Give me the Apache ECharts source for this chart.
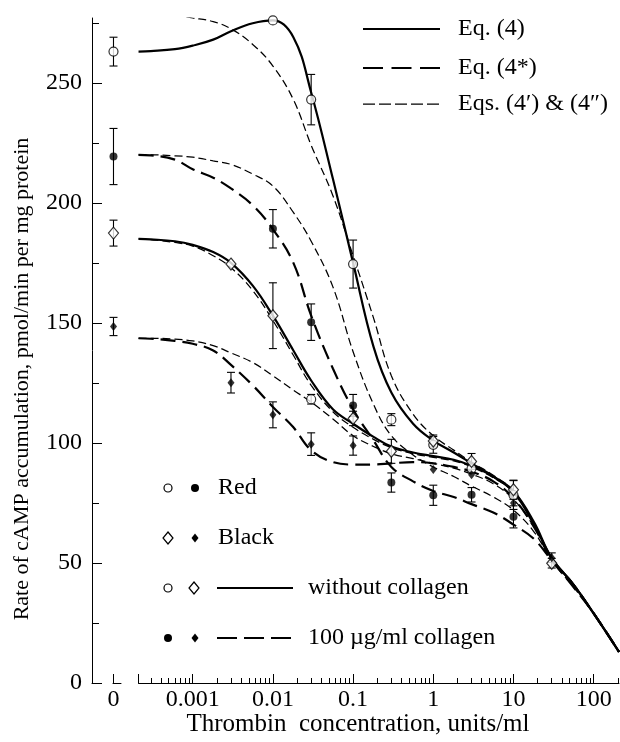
<!DOCTYPE html>
<html>
<head>
<meta charset="utf-8">
<script src="https://cdn.jsdelivr.net/npm/echarts@6/dist/echarts.min.js"></script>
<style>
  html, body { margin: 0; padding: 0; background: #fff; }
  #chart { width: 620px; height: 742px; }
</style>
</head>
<body>
<div id="chart"></div>
<script>
// measured points, thrombin in units/ml (0 = no thrombin), rate in pmol/min per mg
const redOpenX = [0, 0.01, 0.03, 0.1, 0.3, 1, 3, 10];
const redOpenY = [263, 276, 243, 174.5, 109.7, 99.2, 89.3, 78.3];
const redOpenErr = [6, 0, 10.5, 10, 2.5, 3.5, 0, 6];

const redFillX = [0, 0.01, 0.03, 0.1, 0.3, 1, 3, 10];
const redFillY = [219.3, 189.2, 150.3, 115.6, 83.5, 78.2, 78.4, 69.2];
const redFillErr = [11.7, 8, 7.6, 4.6, 4, 4.2, 3, 4.6];

const blackOpenX = [0, 0.003, 0.01, 0.03, 0.1, 0.3, 1, 3, 10, 30];
const blackOpenY = [187.4, 174.5, 153, 118.2, 110.2, 96.5, 100.8, 92.3, 80.5, 49.9];
const blackOpenErr = [5.4, 0, 13.7, 2, 3, 5, 2.5, 3.3, 4, 2];

const blackFillX = [0, 0.003, 0.01, 0.03, 0.1, 1, 3, 10, 30];
const blackFillY = [148.5, 125.1, 111.7, 99.5, 98.9, 88.9, 86.7, 75, 52.2];
const blackFillErr = [3.8, 4.3, 5.4, 4.7, 4, 0, 0, 0, 2];

// fitted curves, read at these concentrations
const curveX = [0.000211, 0.0003, 0.0006, 0.001, 0.0018, 0.003, 0.0056, 0.01, 0.018, 0.03, 0.056,
  0.1, 0.18, 0.3, 0.56, 1, 1.8, 3, 5.6, 10, 18, 30, 56, 100, 207];
const redEq4 = [263, 263.2, 264, 265.5, 268, 271.5, 274.8, 276, 269, 246, 210,
  175, 140, 121, 108, 101, 96, 91.5, 86, 79.5, 66, 52, 41, 29, 13];
const redEq4p = [278.3, 278.3, 278, 277, 275.5, 272.5, 266, 257, 243, 224, 203,
  178, 152, 128, 112, 103, 97, 92, 86.5, 80, 66.5, 52, 41, 29, 13];
const redEq4s = [220, 219.8, 218, 214, 210.5, 206, 199, 189, 175, 153, 131,
  114, 101, 90, 84, 80, 77.5, 74.5, 71, 66, 60, 51, 40, 29, 13];
const redEq4sp = [220, 220, 219.6, 219, 217.5, 216, 212, 207, 196, 184, 165,
  138, 116, 103, 95, 90, 86, 82, 77.5, 72, 63, 51, 40, 29, 13];
const blackEq4 = [185, 184.8, 184, 182.5, 179.5, 175, 165.5, 153, 138.5, 126, 114,
  108, 102.5, 98.5, 96, 94.5, 93, 90.5, 86, 80, 67, 52, 41, 29, 13];
const blackEq4p = [185, 184.7, 183.5, 182, 178, 173, 163.5, 151, 136.5, 124, 113,
  106.5, 101.5, 98, 95.5, 94, 92.5, 90, 85.5, 79.5, 66.5, 52, 41, 29, 13];
const blackEq4s = [143.6, 143.4, 142.5, 141.3, 138.5, 132.5, 124, 115, 106.5, 97, 92,
  91, 91, 91.5, 92, 91.5, 90, 88, 84, 77, 65, 51.5, 41, 29, 13];
const blackEq4sp = [143.6, 143.6, 143.2, 142.5, 140.5, 137.5, 133.5, 128, 122, 117, 110,
  103, 98.5, 95.5, 93.5, 91.5, 89.5, 87, 83, 76.5, 65, 51.5, 41, 29, 13];

const decadeLabels = ['0.001', '0.01', '0.1', '1', '10', '100'];
const yLabels = [0, 50, 100, 150, 200, 250];
const yMinor = [25, 75, 125, 175, 225, 275];

const FONT = 'Liberation Serif';
// x axis runs in log10 units; the "0" column sits left of an axis break
const xMin = Math.log10(curveX[0]);
const xMax = Math.log10(curveX[curveX.length - 1]);
const xLeft = -4.256;
const zeroPos = -3.988;
const toX = (c) => (c === 0 ? zeroPos : Math.log10(c));

const majorX = [zeroPos, xMin, -3, -2, -1, 0, 1, 2];
const minorX = [];
for (let d = -4; d <= 2; d++) {
  for (let k = 2; k <= 9; k++) {
    const v = Math.log10(k) + d;
    if (v > xMin && v < xMax) minorX.push(v);
  }
}

function bars(xs, ys, es) {
  const out = [];
  xs.forEach((x, i) => {
    if (es[i] > 0) out.push([toX(x), ys[i] - es[i], ys[i] + es[i]]);
  });
  return out;
}
const curve = (vals) => curveX.map((c, i) => [toX(c), vals[i]]);

const openStyle = { color: '#fff', borderColor: '#000', borderWidth: 1.2 };
const fillStyle = { color: '#000', borderColor: '#000', borderWidth: 0 };

function markers(name, xs, ys, symbol, size, style, overrides) {
  const data = xs.map((x, i) => {
    const o = (overrides || []).find((q) => q.x === x);
    const d = [toX(x), ys[i]];
    return o ? { value: d, symbol: o.symbol, symbolSize: o.size } : d;
  });
  return {
    name, type: 'scatter', symbol, symbolSize: size, itemStyle: style,
    z: 10, silent: true, data
  };
}

function errorSeries(xs, ys, es) {
  return {
    type: 'custom', z: 8, silent: true,
    renderItem(params, api) {
      const x = api.value(0);
      const top = api.coord([x, api.value(2)]);
      const bot = api.coord([x, api.value(1)]);
      const w = 4;
      const st = { stroke: '#000', lineWidth: 1.1 };
      return {
        type: 'group', children: [
          { type: 'line', shape: { x1: top[0], y1: top[1], x2: bot[0], y2: bot[1] }, style: st },
          { type: 'line', shape: { x1: top[0] - w, y1: top[1], x2: top[0] + w, y2: top[1] }, style: st },
          { type: 'line', shape: { x1: bot[0] - w, y1: bot[1], x2: bot[0] + w, y2: bot[1] }, style: st }
        ]
      };
    },
    data: bars(xs, ys, es)
  };
}

const solid = { color: '#000', width: 2.2, type: 'solid' };
const longDash = { color: '#000', width: 2.2, type: [15, 7] };
const thinDash = { color: '#000', width: 1.25, type: [8, 4] };

function line(vals, style) {
  return {
    type: 'line', data: curve(vals), showSymbol: false, smooth: 0.4,
    lineStyle: style, z: 5, silent: true
  };
}

const txt = (x, y, text, size, align) => ({
  type: 'text', x, y,
  style: {
    text, font: (size || 24) + 'px "' + FONT + '"', fill: '#000',
    textAlign: align || 'left', textVerticalAlign: 'middle'
  }
});
const hline = (x1, x2, y, width, dash) => ({
  type: 'line', shape: { x1, y1: y, x2, y2: y },
  style: { stroke: '#000', lineWidth: width, lineDash: dash || null }
});
const circ = (cx, cy, filled) => ({
  type: 'circle', shape: { cx, cy, r: 4 },
  style: filled ? { fill: '#000' } : { fill: '#fff', stroke: '#000', lineWidth: 1.2 }
});
const diam = (cx, cy, filled) => {
  const h = filled ? 4.5 : 6, w = filled ? 3.5 : 5;
  return {
    type: 'polygon', shape: { points: [[cx, cy - h], [cx + w, cy], [cx, cy + h], [cx - w, cy]] },
    style: filled ? { fill: '#000' } : { fill: '#fff', stroke: '#000', lineWidth: 1.2 }
  };
};

const chart = echarts.init(document.getElementById('chart'), null, { renderer: 'canvas' });
const axisFont = { fontFamily: FONT, fontSize: 24, color: '#000' };

chart.setOption({
  animation: false,
  backgroundColor: '#fff',
  grid: { left: 92, top: 18, width: 527, height: 665 },
  xAxis: [
    {
      type: 'value', position: 'bottom', min: xLeft, max: xMax,
      // broken axis: short stub, gap, the "0" piece, gap, the log part
      axisLine: { onZero: false, lineStyle: { color: '#000', width: 1, type: [5, 2.5, 1.5, 12, 8, 17.5, 490] } },
      axisTick: { inside: true, length: 9, customValues: majorX, lineStyle: { color: '#000' } },
      axisLabel: Object.assign({
        customValues: [zeroPos, -3, -2, -1, 0, 1, 2],
        formatter: (v) => (Math.abs(v - zeroPos) < 1e-6 ? '0' : decadeLabels[Math.round(v) + 3]),
        margin: 5
      }, axisFont),
      splitLine: { show: false }
    },
    {
      type: 'value', position: 'bottom', min: xLeft, max: xMax,
      axisLine: { show: false, onZero: false },
      axisTick: { inside: true, length: 5, customValues: minorX, lineStyle: { color: '#000' } },
      axisLabel: { show: false },
      splitLine: { show: false }
    }
  ],
  yAxis: [
    {
      type: 'value', position: 'left', min: 0, max: 277,
      axisLine: { show: true, onZero: false, lineStyle: { color: '#000', width: 1 } },
      axisTick: { show: true, inside: true, length: 10, customValues: yLabels, lineStyle: { color: '#000' } },
      axisLabel: Object.assign({ customValues: yLabels, margin: 10 }, axisFont),
      splitLine: { show: false }
    },
    {
      type: 'value', position: 'left', min: 0, max: 277,
      axisLine: { show: false, onZero: false },
      axisTick: { show: true, inside: true, length: 7, customValues: yMinor, lineStyle: { color: '#000' } },
      axisLabel: { show: false },
      splitLine: { show: false }
    }
  ],
  graphic: [
    txt(358, 724, 'Thrombin  concentration, units/ml', 25, 'center'),
    {
      type: 'text', x: 22, y: 379, rotation: Math.PI / 2,
      style: {
        text: 'Rate of cAMP accumulation, pmol/min per mg protein', font: '22px "' + FONT + '"',
        fill: '#000', textAlign: 'center', textVerticalAlign: 'middle'
      }
    },
    // top right key
    hline(363, 440, 29, 2.2), txt(458, 29, 'Eq. (4)'),
    hline(363, 440, 68, 2.2, [20, 8.5]), txt(458, 68, 'Eq. (4*)'),
    hline(363, 440, 104, 1.25, [12, 4]), txt(458, 104, 'Eqs. (4\u2032) & (4\u2033)'),
    // bottom left key
    circ(168, 488, false), circ(195, 488, true), txt(218, 488, 'Red'),
    diam(168, 538, false), diam(195, 538, true), txt(218, 538, 'Black'),
    circ(168, 588, false), diam(194, 588, false), hline(217, 293, 588, 2.2), txt(308, 588, 'without collagen'),
    circ(168, 638, true), diam(195, 638, true), hline(217, 291, 638, 2.2, [20, 7]), txt(308, 638, '100 \u00b5g/ml collagen')
  ],
  series: [
    line(redEq4, solid), line(redEq4p, thinDash),
    line(redEq4s, longDash), line(redEq4sp, thinDash),
    line(blackEq4, solid), line(blackEq4p, thinDash),
    line(blackEq4s, longDash), line(blackEq4sp, thinDash),
    errorSeries(redOpenX, redOpenY, redOpenErr),
    errorSeries(redFillX, redFillY, redFillErr),
    errorSeries(blackOpenX, blackOpenY, blackOpenErr),
    errorSeries(blackFillX, blackFillY, blackFillErr),
    markers('Red, without collagen', redOpenX, redOpenY, 'circle', 9, openStyle),
    markers('Red, 100 \u00b5g/ml collagen', redFillX, redFillY, 'circle', 8, fillStyle),
    markers('Black, without collagen', blackOpenX, blackOpenY, 'diamond', [10, 12], openStyle,
      [{ x: 0.03, symbol: 'circle', size: 9 }]),
    markers('Black, 100 \u00b5g/ml collagen', blackFillX, blackFillY, 'diamond', [7, 9], fillStyle)
  ]
});
</script>
</body>
</html>
